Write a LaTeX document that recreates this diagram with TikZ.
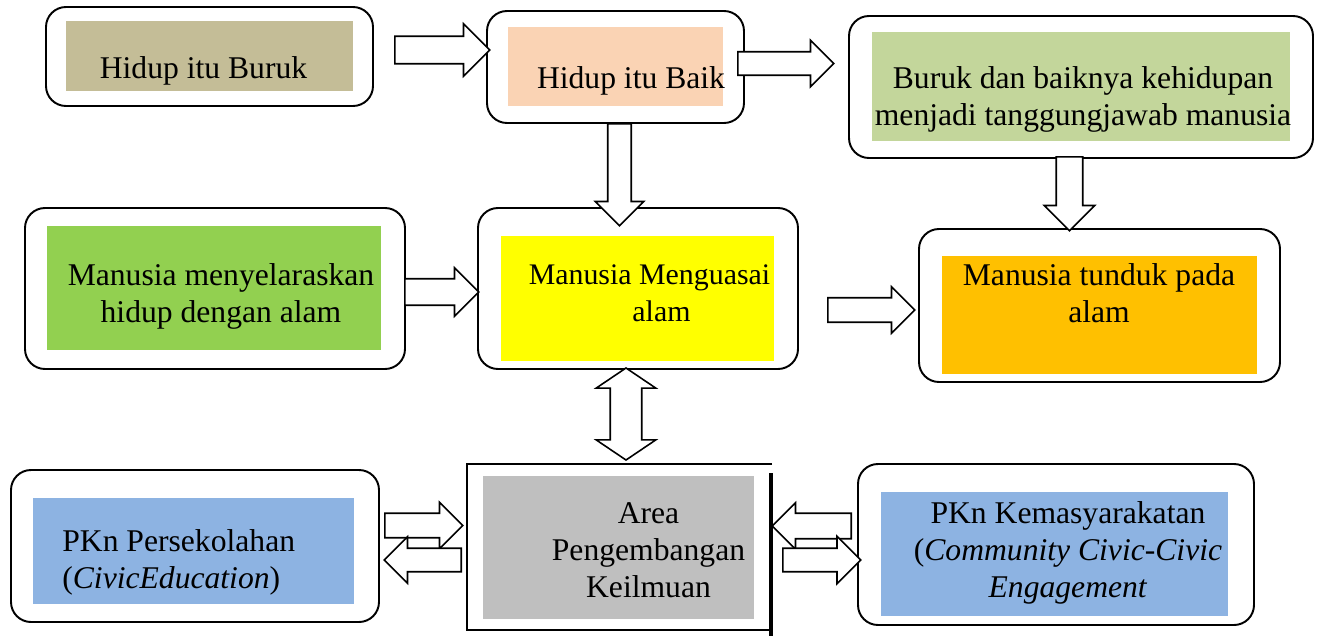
\documentclass[tikz,border=0pt]{standalone}
\usepackage{fontspec}
\setmainfont{Liberation Serif}
\usetikzlibrary{shapes.arrows}

\definecolor{cBuruk}{HTML}{C4BD97}
\definecolor{cBaik}{HTML}{FAD3B4}
\definecolor{cTanggung}{HTML}{C3D69B}
\definecolor{cSelaras}{HTML}{92D050}
\definecolor{cKuasai}{HTML}{FFFF00}
\definecolor{cTunduk}{HTML}{FFC000}
\definecolor{cPkn}{HTML}{8DB3E2}
\definecolor{cArea}{HTML}{BFBFBF}

\begin{document}
\begin{tikzpicture}[x=0.02cm,y=-0.02cm,
  font=\fontsize{18}{21}\selectfont,
  rim/.style 2 args={draw, line width=1.1pt, rounded corners=0.4cm, inner sep=0pt,
    minimum width=#1*0.02cm, minimum height=#2*0.02cm},
  panel/.style n args={3}{fill=#1, inner sep=0pt,
    minimum width=#2*0.02cm, minimum height=#3*0.02cm},
  txt/.style={anchor=base, align=center, inner sep=0pt},
  fat/.style n args={3}{single arrow, draw, fill=white, line width=0.9pt, anchor=tail,
    inner xsep=0pt, inner ysep=#2*0.01cm, minimum height=#1*0.02cm,
    single arrow head extend=(#3-#2)*0.01cm},
  twin/.style n args={3}{double arrow, draw, fill=white, line width=0.9pt,
    inner xsep=0pt, inner ysep=#2*0.01cm, minimum height=#1*0.02cm,
    double arrow tip angle=112,
    double arrow head extend=(#3-#2)*0.01cm}]
\useasboundingbox (0,0) rectangle (1320,636);

% top row
\node[rim={327}{99}] (buruk) at (209.5,56.5) {};
\node[panel={cBuruk}{287}{70}] (buruk-f) at (209.5,56) {};
\node[txt] (buruk-t) at (203.5,78) {Hidup itu Buruk};

\node[rim={257}{112}] (baik) at (615.5,67) {};
\node[panel={cBaik}{215}{79}] (baik-f) at (615.5,66.5) {};
\node[txt] (baik-t) at (631,88) {Hidup itu Baik};

\node[rim={464}{142}] (tanggung) at (1081,87) {};
\node[panel={cTanggung}{418}{109}] (tanggung-f) at (1081,86.5) {};
\node[txt] (tanggung-t) at (1083,125) {Buruk dan baiknya kehidupan\\menjadi tanggungjawab manusia};

% middle row
\node[rim={380}{161}] (selaras) at (215,288.5) {};
\node[panel={cSelaras}{334}{124}] (selaras-f) at (214,288) {};
\node[txt] (selaras-t) at (221,322) {Manusia menyelaraskan\\hidup dengan alam};

\node[rim={320}{161}] (kuasai) at (638,288.5) {};
\node[panel={cKuasai}{273}{125}] (kuasai-f) at (637.5,298.5) {};
\node[txt, font=\fontsize{17}{21}\selectfont] (kuasai-t) at (649.5,321)
  {Manusia Menguasai\\\hspace*{0.48cm}alam};

\node[rim={361}{153}] (tunduk) at (1099.5,305.5) {};
\node[panel={cTunduk}{315}{118}] (tunduk-f) at (1099.5,315) {};
\node[txt] (tunduk-t) at (1099,322) {Manusia tunduk pada\\alam};

% bottom row
\node[rim={368}{152}] (sekolah) at (195,546) {};
\node[panel={cPkn}{321}{106}] (sekolah-f) at (193.5,551) {};
\node[txt, anchor=base west, align=left] (sekolah-t) at (62,588)
  {PKn Persekolahan\\(\textit{CivicEducation})};

\node[panel={cArea}{271}{143}] (area-f) at (618.5,547.5) {};
\draw[line width=1.1pt] (772,464) -- (467,464) -- (467,630) -- (772,630);
\draw[line width=1.8pt] (771,473) -- (771,636);
\node[txt] (area-t) at (648.5,597) {Area\\Pengembangan\\Keilmuan};

\node[rim={396}{161}] (masyarakat) at (1056,544.5) {};
\node[panel={cPkn}{347}{124}] (masyarakat-f) at (1054.5,554) {};
\node[txt] (masyarakat-t) at (1068,597)
  {PKn Kemasyarakatan\\(\textit{Community Civic-Civic}\\\textit{Engagement}};

% arrows, placed by their tails
\node[fat={95}{26}{51}] (a1) at (394,50) {};
\node[fat={96}{22}{45}] (a2) at (737,63.5) {};
\node[fat={102}{22}{47}, rotate=-90] (a3) at (619.5,123) {};
\node[fat={74}{25}{49}, rotate=-90] (a4) at (1069.5,156) {};
\node[fat={74}{25}{47}] (a5) at (404,292) {};
\node[fat={87}{23}{45}] (a6) at (827,310) {};
\node[twin={92}{30}{58}, rotate=90] (a7) at (626,414) {};
\node[fat={78}{23}{45}] (a8) at (384,525.5) {};
\node[fat={77}{22}{45}, rotate=180] (a9) at (462,560) {};
\node[fat={79}{24}{45}, rotate=180] (a10) at (852,526) {};
\node[fat={78}{22}{46}] (a11) at (782,560) {};
\end{tikzpicture}
\end{document}
